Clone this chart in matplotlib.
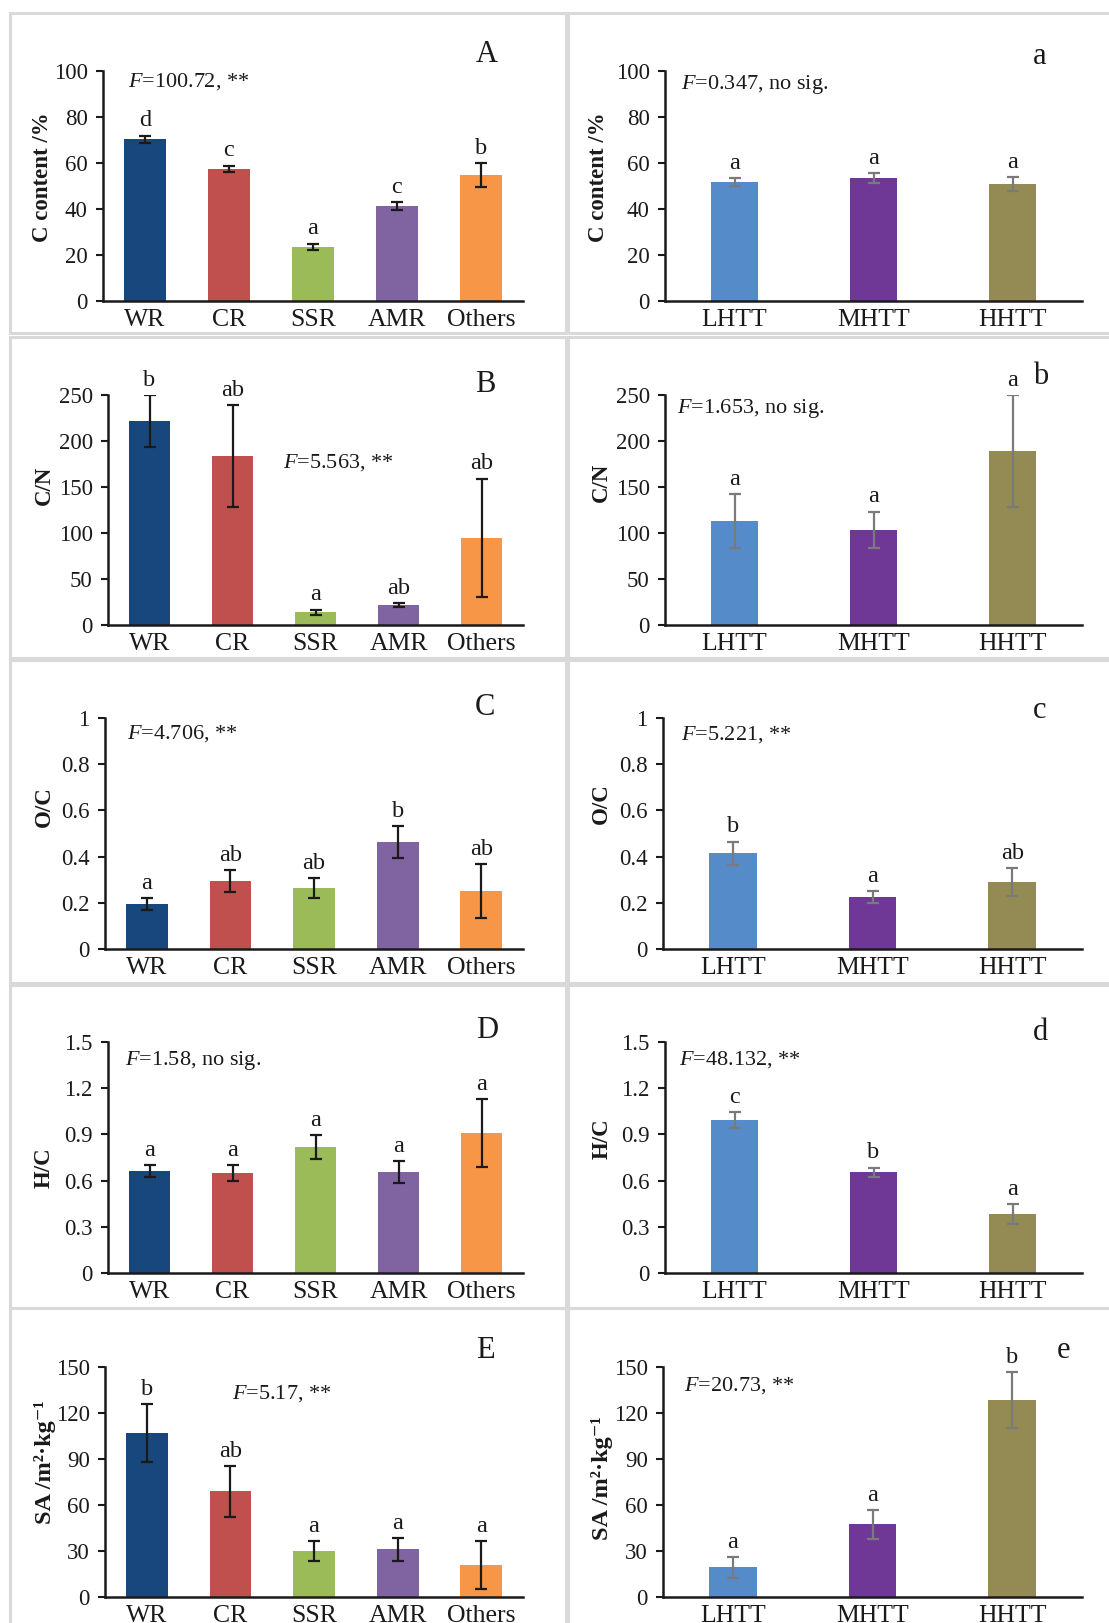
import matplotlib
matplotlib.use('Agg')
import matplotlib.pyplot as plt
from matplotlib.patches import Rectangle

plt.rcParams['font.family'] = ['Liberation Serif', 'DejaVu Serif']
plt.rcParams['mathtext.fontset'] = 'custom'
plt.rcParams['mathtext.rm'] = 'Liberation Serif'
plt.rcParams['mathtext.it'] = 'Liberation Serif:italic'
plt.rcParams['mathtext.bf'] = 'Liberation Serif:bold'

# ---------------- data ----------------
source_cats = ['WR', 'CR', 'SSR', 'AMR', 'Others']
temp_cats = ['LHTT', 'MHTT', 'HHTT']
source_colors = ['#17477c', '#c0504d', '#9bbb59', '#8064a2', '#f79646']
temp_colors = ['#558bc9', '#6f3896', '#948a54']

# C content (%)
c_src = [70.4, 57.4, 23.5, 41.3, 54.8]
c_src_err = [1.5, 1.5, 1.5, 1.7, 5.1]
c_src_let = ['d', 'c', 'a', 'c', 'b']
c_tmp = [51.7, 53.5, 50.9]
c_tmp_err = [1.6, 2.0, 3.0]
c_tmp_let = ['a', 'a', 'a']

# C/N
cn_src = [221.7, 183.7, 14.1, 21.7, 94.6]
cn_src_err = [28.0, 55.0, 2.7, 2.0, 64.5]
cn_src_let = ['b', 'ab', 'a', 'ab', 'ab']
cn_tmp = [113.0, 103.3, 189.0]
cn_tmp_err = [29.4, 20.0, 60.5]
cn_tmp_let = ['a', 'a', 'a']

# O/C
oc_src = [0.194, 0.294, 0.263, 0.463, 0.250]
oc_src_err = [0.025, 0.046, 0.044, 0.070, 0.116]
oc_src_let = ['a', 'ab', 'ab', 'b', 'ab']
oc_tmp = [0.415, 0.224, 0.289]
oc_tmp_err = [0.050, 0.027, 0.061]
oc_tmp_let = ['b', 'a', 'ab']

# H/C
hc_src = [0.662, 0.649, 0.818, 0.655, 0.909]
hc_src_err = [0.040, 0.052, 0.076, 0.070, 0.220]
hc_src_let = ['a', 'a', 'a', 'a', 'a']
hc_tmp = [0.994, 0.655, 0.382]
hc_tmp_err = [0.053, 0.030, 0.063]
hc_tmp_let = ['c', 'b', 'a']

# SA (m2/kg)
sa_src = [106.7, 68.9, 29.8, 31.1, 20.7]
sa_src_err = [18.9, 16.6, 6.4, 7.3, 15.5]
sa_src_let = ['b', 'ab', 'a', 'a', 'a']
sa_tmp = [19.3, 47.4, 128.3]
sa_tmp_err = [6.6, 9.3, 18.4]
sa_tmp_let = ['a', 'a', 'b']

c_ticks = [0, 20, 40, 60, 80, 100]
cn_ticks = [0, 50, 100, 150, 200, 250]
oc_ticks = [0, 0.2, 0.4, 0.6, 0.8, 1]
oc_ticklabels = ['0', '0.2', '0.4', '0.6', '0.8', '1']
hc_ticks = [0, 0.3, 0.6, 0.9, 1.2, 1.5]
hc_ticklabels = ['0', '0.3', '0.6', '0.9', '1.2', '1.5']
sa_ticks = [0, 30, 60, 90, 120, 150]

f_texts = {
    'A': r'$\it{F}$=100.72, **', 'a': r'$\it{F}$=0.347, no sig.',
    'B': r'$\it{F}$=5.563, **', 'b': r'$\it{F}$=1.653, no sig.',
    'C': r'$\it{F}$=4.706, **', 'c': r'$\it{F}$=5.221, **',
    'D': r'$\it{F}$=1.58, no sig.', 'd': r'$\it{F}$=48.132, **',
    'E': r'$\it{F}$=5.17, **', 'e': r'$\it{F}$=20.73, **',
}

ylab_c = 'C content /%'
ylab_cn = 'C/N'
ylab_oc = 'O/C'
ylab_hc = 'H/C'
ylab_sa = 'SA /m²·kg⁻¹'

# ---------------- layout (pixels) ----------------
W, H = 1109, 1623
fig = plt.figure(figsize=(W / 100, H / 100), dpi=100)

# panel frames
rows_y = [(13, 333), (337, 658), (660, 983), (985, 1308), (1308, 1640)]
for (y0, y1) in rows_y:
    for (x0, x1) in [(10, 566), (568, 1125)]:
        fig.patches.append(Rectangle((x0 / W, 1 - y1 / H), (x1 - x0) / W, (y1 - y0) / H,
                                     transform=fig.transFigure, fill=False,
                                     edgecolor='#d9d9d9', lw=2.2, zorder=0))

panels = [
    dict(key='A', box=(103, 523, 71, 301), v=c_src, e=c_src_err, l=c_src_let, cats=source_cats,
         cols=source_colors, ticks=c_ticks, tl=None, yl=ylab_c, ylp=(42, 177), fp=(128, 82), lp=(487, 55)),
    dict(key='a', box=(665, 1082, 71, 301), v=c_tmp, e=c_tmp_err, l=c_tmp_let, cats=temp_cats,
         cols=temp_colors, ticks=c_ticks, tl=None, yl=ylab_c, ylp=(599, 177), fp=(681, 85), lp=(1040, 57)),
    dict(key='B', box=(108, 523, 395, 625), v=cn_src, e=cn_src_err, l=cn_src_let, cats=source_cats,
         cols=source_colors, ticks=cn_ticks, tl=None, yl=ylab_cn, ylp=(44, 485), fp=(283, 463), lp=(485, 385)),
    dict(key='b', box=(665, 1082, 395, 625), v=cn_tmp, e=cn_tmp_err, l=cn_tmp_let, cats=temp_cats,
         cols=temp_colors, ticks=cn_ticks, tl=None, yl=ylab_cn, ylp=(601, 482), fp=(677, 408), lp=(1041, 377)),
    dict(key='C', box=(105, 523, 718, 949), v=oc_src, e=oc_src_err, l=oc_src_let, cats=source_cats,
         cols=source_colors, ticks=oc_ticks, tl=oc_ticklabels, yl=ylab_oc, ylp=(44, 807), fp=(127, 734), lp=(485, 707)),
    dict(key='c', box=(663, 1082, 718, 949), v=oc_tmp, e=oc_tmp_err, l=oc_tmp_let, cats=temp_cats,
         cols=temp_colors, ticks=oc_ticks, tl=oc_ticklabels, yl=ylab_oc, ylp=(601, 804), fp=(681, 735), lp=(1040, 710)),
    dict(key='D', box=(108, 523, 1042, 1273), v=hc_src, e=hc_src_err, l=hc_src_let, cats=source_cats,
         cols=source_colors, ticks=hc_ticks, tl=hc_ticklabels, yl=ylab_hc, ylp=(44, 1168), fp=(125, 1061), lp=(487, 1030)),
    dict(key='d', box=(665, 1082, 1042, 1273), v=hc_tmp, e=hc_tmp_err, l=hc_tmp_let, cats=temp_cats,
         cols=temp_colors, ticks=hc_ticks, tl=hc_ticklabels, yl=ylab_hc, ylp=(602, 1139), fp=(679, 1060), lp=(1041, 1032)),
    dict(key='E', box=(105, 523, 1367, 1597), v=sa_src, e=sa_src_err, l=sa_src_let, cats=source_cats,
         cols=source_colors, ticks=sa_ticks, tl=None, yl=ylab_sa, ylp=(45, 1462), fp=(232, 1394), lp=(485, 1350)),
    dict(key='e', box=(663, 1082, 1367, 1597), v=sa_tmp, e=sa_tmp_err, l=sa_tmp_let, cats=temp_cats,
         cols=temp_colors, ticks=sa_ticks, tl=None, yl=ylab_sa, ylp=(602, 1478), fp=(684, 1386), lp=(1063, 1350)),
]

for p in panels:
    x0, x1, yt, yb = p['box']
    ax = fig.add_axes([x0 / W, 1 - yb / H, (x1 - x0) / W, (yb - yt) / H])
    ax.patch.set_alpha(0)
    n = len(p['cats'])
    xs = list(range(n))
    left = p['key'].isupper()
    bw = 0.5 if left else 0.34
    ecol = '#1a1a1a' if left else '#7a7a7a'
    ax.bar(xs, p['v'], width=bw, color=p['cols'], zorder=2)
    ax.errorbar(xs, p['v'], yerr=p['e'], fmt='none', ecolor=ecol, elinewidth=1.6,
                capsize=4, capthick=1.6, zorder=3)
    for xi, v, e, let in zip(xs, p['v'], p['e'], p['l']):
        ax.annotate(let, (xi, v + e), xytext=(0, 3), textcoords='offset points',
                    ha='center', va='bottom', fontsize=17.5, color='#1a1a1a')
    ax.set_xlim(-0.5, n - 0.5)
    ax.set_ylim(p['ticks'][0], p['ticks'][-1])
    ax.set_yticks(p['ticks'])
    if p['tl'] is not None:
        ax.set_yticklabels(p['tl'])
    ax.set_xticks(xs)
    ax.set_xticklabels(p['cats'])
    for s in ['top', 'right']:
        ax.spines[s].set_visible(False)
    for s in ['left', 'bottom']:
        ax.spines[s].set_linewidth(1.8)
        ax.spines[s].set_color('#1a1a1a')
    ax.tick_params(axis='y', direction='out', length=5, width=1.5, pad=6,
                   labelsize=16.5, colors='#1a1a1a')
    ax.tick_params(axis='x', length=0, pad=6, labelsize=18.5, colors='#1a1a1a')
    ax.spines['bottom'].set_zorder(4)

    ysize = 17.5 if p['yl'] == ylab_sa else 16.5
    fig.text(p['ylp'][0] / W, 1 - p['ylp'][1] / H, p['yl'], rotation=90,
             ha='center', va='center', fontsize=ysize, fontweight='bold', color='#1a1a1a')
    fig.text(p['fp'][0] / W, 1 - p['fp'][1] / H, f_texts[p['key']],
             ha='left', va='center', fontsize=16, color='#1a1a1a')
    fig.text(p['lp'][0] / W, 1 - p['lp'][1] / H, p['key'],
             ha='center', va='center', fontsize=22, color='#1a1a1a')

fig.savefig('out.png', dpi=100)
